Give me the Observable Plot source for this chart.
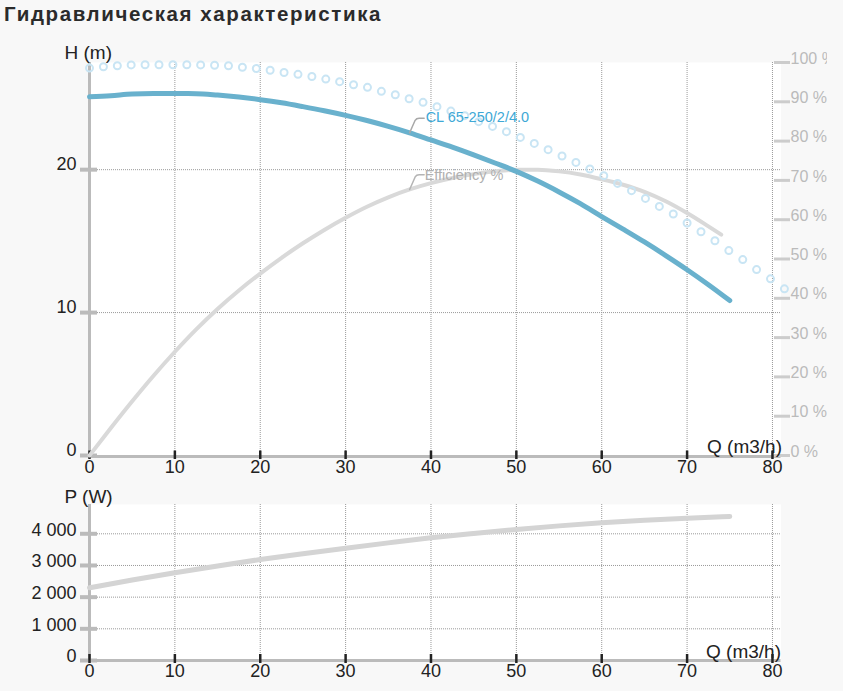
<!DOCTYPE html>
<html>
<head>
<meta charset="utf-8">
<script src="https://cdn.jsdelivr.net/npm/d3@7"></script>
<script src="https://cdn.jsdelivr.net/npm/@observablehq/plot@0.6"></script>
<style>
  html, body { margin: 0; padding: 0; background: #f8f8f8; }
  #wrap { position: relative; width: 843px; height: 691px; background: #f8f8f8; overflow: hidden; }
  #title { position: absolute; left: 4px; top: 4px; font: bold 20.5px "Liberation Sans", Arial, sans-serif; letter-spacing: 1.6px; line-height: 20px; color: #2b2b2b; white-space: nowrap; }
  #top { position: absolute; left: 0; top: 30px; width: 827px; overflow: hidden; }
  #bottom { position: absolute; left: 0; top: 480px; }
</style>
</head>
<body>
<div id="wrap">
  <div id="title">Гидравлическая характеристика</div>
  <div id="top"></div>
  <div id="bottom"></div>
</div>
<script>
// ---- data ----
const qTicks = [0, 10, 20, 30, 40, 50, 60, 70, 80];
const hTicks = [0, 10, 20];
const pctTicks = [0, 10, 20, 30, 40, 50, 60, 70, 80, 90, 100];
const pTicks = [0, 1000, 2000, 3000, 4000];

// Head curve CL 65-250/2/4.0
const headQ = [0, 2.5, 5, 7.5, 10, 12.5, 15, 17.5, 20, 22.5, 25, 27.5, 30, 32.5, 35, 37.5, 40, 42.5, 45, 47.5, 50, 52.5, 55, 57.5, 60, 62.5, 65, 67.5, 70, 72.5, 75];
const headH = [25.1, 25.18, 25.3, 25.33, 25.33, 25.32, 25.22, 25.08, 24.9, 24.68, 24.41, 24.12, 23.8, 23.44, 23.03, 22.58, 22.08, 21.58, 21.04, 20.47, 19.88, 19.2, 18.44, 17.62, 16.72, 15.84, 14.94, 13.99, 13.0, 11.95, 10.84];

// Efficiency %
const effQ = [0, 2.5, 5, 7.5, 10, 12.5, 15, 17.5, 20, 22.5, 25, 27.5, 30, 32.5, 35, 37.5, 40, 42.5, 45, 47.5, 50, 52.5, 55, 57.5, 60, 62.5, 65, 67.5, 70, 72.5, 74];
const effPct = [0, 7.0, 13.8, 20.3, 26.4, 32.1, 37.3, 42.0, 46.3, 50.3, 54.0, 57.4, 60.5, 63.3, 65.7, 67.7, 69.3, 70.6, 71.6, 72.3, 72.7, 72.7, 72.3, 71.5, 70.3, 68.9, 67.1, 64.7, 61.7, 58.3, 56.2];

// Dotted (ring) curve
const ringQ = [0, 1.63, 3.26, 4.88, 6.51, 8.14, 9.77, 11.4, 13.02, 14.65, 16.28, 17.91, 19.54, 21.16, 22.79, 24.42, 26.05, 27.68, 29.3, 30.93, 32.56, 34.19, 35.82, 37.44, 39.07, 40.7, 42.33, 43.96, 45.58, 47.21, 48.84, 50.47, 52.1, 53.72, 55.35, 56.98, 58.61, 60.24, 61.86, 63.49, 65.12, 66.75, 68.38, 70.0, 71.63, 73.26, 74.89, 76.52, 78.14, 79.77, 81.4];
const ringH = [27.11, 27.2, 27.27, 27.33, 27.34, 27.34, 27.34, 27.34, 27.33, 27.31, 27.27, 27.17, 27.08, 26.96, 26.8, 26.67, 26.52, 26.34, 26.16, 25.94, 25.76, 25.48, 25.24, 24.96, 24.71, 24.41, 24.1, 23.78, 23.36, 23.03, 22.66, 22.26, 21.84, 21.4, 20.96, 20.51, 20.05, 19.58, 19.04, 18.53, 17.99, 17.43, 16.9, 16.27, 15.66, 15.03, 14.34, 13.71, 13.01, 12.36, 11.66];

// Power P (W)
const powerQ = [0, 5, 10, 15, 20, 25, 30, 35, 40, 45, 50, 55, 60, 65, 70, 75];
const powerW = [2295, 2540, 2769, 2985, 3189, 3372, 3546, 3713, 3873, 4010, 4136, 4250, 4347, 4425, 4493, 4546];

const seriesName = "CL 65-250/2/4.0";
const effName = "Efficiency %";
const labelQ = 37.5;

// ---- build tables ----
const Hmax = 27.5;             // top of H axis (aligned with 100 %)
const pct = v => v * Hmax / 100;
const head = headQ.map((q, i) => ({Q: q, H: headH[i]}));
const eff = effQ.map((q, i) => ({Q: q, E: effPct[i]}));
const rings = ringQ.map((q, i) => ({Q: q, H: ringH[i]}));
const power = powerQ.map((q, i) => ({Q: q, P: powerW[i]}));
const headLabel = head.filter(d => d.Q === labelQ);
const effLabel = eff.filter(d => d.Q === labelQ);

const leader = {
  draw(ctx) {
    ctx.moveTo(0, 0);
    ctx.lineTo(5.5, -12.5);
    ctx.quadraticCurveTo(6.8, -14.6, 9.5, -14.6);
    ctx.lineTo(14.5, -14.6);
  }
};

const font = "'Liberation Sans', Arial, sans-serif";
const grid = {stroke: "#9a9a9a", strokeOpacity: 1, strokeWidth: 1, strokeDasharray: "1,1"};
const fmtP = d => d3.format(",")(d).replace(/,/g, " ");

const topChart = Plot.plot({
  width: 827, height: 450,
  marginLeft: 89, marginRight: 46.5, marginTop: 32, marginBottom: 25,
  style: {background: "transparent", fontFamily: font, overflow: "hidden"},
  x: {domain: [0, 81]},
  y: {domain: [0, Hmax]},
  marks: [
    Plot.frame({fill: "white", stroke: "none"}),
    Plot.gridX(qTicks.slice(1), grid),
    Plot.gridY(hTicks.slice(1), grid),
    Plot.ruleX([0], {stroke: "#bbbbbb", strokeWidth: 3}),
    Plot.ruleY([0], {stroke: "#bbbbbb", strokeWidth: 3, dy: 1}),
    // left axis
    Plot.axisY(hTicks, {anchor: "left", tickSize: 17, dx: 8, stroke: "#bbbbbb", strokeWidth: 4, fill: "none", label: null}),
    Plot.axisY(hTicks, {anchor: "left", tickSize: 0, tickPadding: 13, dy: -5, stroke: "none", fill: "#222", fontSize: 18, label: null}),
    // right % axis
    Plot.axisY(pctTicks.map(pct), {anchor: "right", tickSize: 16, dx: -7.5, stroke: "#cccccc", strokeWidth: 3, fill: "none", label: null}),
    Plot.text(pctTicks, {y: d => pct(d), text: d => d + " %", frameAnchor: "right", textAnchor: "start", lineAnchor: "middle", dx: 9.5, dy: -4, fill: "#bbbbbb", fontSize: 16}),
    // x axis
    Plot.axisX(qTicks, {anchor: "bottom", tickSize: 8.5, dy: -4.5, stroke: "#222", strokeWidth: 2.5, fill: "none", label: null}),
    Plot.axisX(qTicks, {anchor: "bottom", tickSize: 0, tickPadding: 5, stroke: "none", fill: "#222", fontSize: 18, label: null}),
    Plot.text(["Q (m3/h)"], {text: d => d, frameAnchor: "bottom-right", textAnchor: "end", lineAnchor: "middle", dx: 1, dy: -8.5, fill: "#222", fontSize: 19}),
    Plot.text(["H (m)"], {text: d => d, frameAnchor: "top-left", textAnchor: "start", lineAnchor: "middle", dx: -25, dy: -9.5, fill: "#222", fontSize: 19}),
    // curves
    Plot.line(eff, {x: "Q", y: d => pct(d.E), stroke: "#d9d9d9", strokeWidth: 4, curve: "monotone-x"}),
    Plot.dot(rings, {x: "Q", y: "H", r: 3.5, stroke: "#c9e5f4", strokeWidth: 2, fill: "none"}),
    Plot.line(head, {x: "Q", y: "H", stroke: "#69b1cd", strokeWidth: 5, curve: "monotone-x"}),
    // series labels
    Plot.vector(headLabel, {x: "Q", y: "H", length: 1, anchor: "start", shape: leader, stroke: "#a8a8a8", strokeWidth: 1.5}),
    Plot.text(headLabel, {x: "Q", y: "H", text: () => seriesName, dx: 16, dy: -15, textAnchor: "start", lineAnchor: "middle", fill: "#3ea8d6", fontSize: 14.5}),
    Plot.vector(effLabel, {x: "Q", y: d => pct(d.E), length: 1, anchor: "start", shape: leader, stroke: "#b4b4b4", strokeWidth: 1.5}),
    Plot.text(effLabel, {x: "Q", y: d => pct(d.E), text: () => effName, dx: 15, dy: -14.5, textAnchor: "start", lineAnchor: "middle", fill: "#b0b0b0", fontSize: 14.5})
  ]
});
document.getElementById("top").appendChild(topChart);

const bottomChart = Plot.plot({
  width: 843, height: 211,
  marginLeft: 89, marginRight: 62.5, marginTop: 24, marginBottom: 31,
  style: {background: "transparent", fontFamily: font, overflow: "visible"},
  x: {domain: [0, 81]},
  y: {domain: [0, 4925]},
  marks: [
    Plot.frame({fill: "white", stroke: "none"}),
    Plot.gridX(qTicks.slice(1), grid),
    Plot.gridY(pTicks.slice(1), grid),
    Plot.ruleX([0], {stroke: "#bbbbbb", strokeWidth: 3}),
    Plot.ruleY([0], {stroke: "#bbbbbb", strokeWidth: 3}),
    Plot.axisY(pTicks, {anchor: "left", tickSize: 17, dx: 8, stroke: "#bbbbbb", strokeWidth: 4, fill: "none", label: null}),
    Plot.axisY(pTicks, {anchor: "left", tickSize: 0, tickPadding: 13, dy: -4, stroke: "none", fill: "#222", fontSize: 18, tickFormat: fmtP, label: null}),
    Plot.axisX(qTicks, {anchor: "bottom", tickSize: 9, dy: -6, stroke: "#222", strokeWidth: 2.5, fill: "none", label: null}),
    Plot.axisX(qTicks, {anchor: "bottom", tickSize: 0, tickPadding: 4, stroke: "none", fill: "#222", fontSize: 18, label: null}),
    Plot.text(["Q (m3/h)"], {text: d => d, frameAnchor: "bottom-right", textAnchor: "end", lineAnchor: "middle", dx: 0, dy: -8.3, fill: "#222", fontSize: 19}),
    Plot.text(["P (W)"], {text: d => d, frameAnchor: "top-left", textAnchor: "start", lineAnchor: "middle", dx: -25, dy: -8, fill: "#222", fontSize: 19}),
    Plot.line(power, {x: "Q", y: "P", stroke: "#d4d4d4", strokeWidth: 5, curve: "monotone-x"})
  ]
});
document.getElementById("bottom").appendChild(bottomChart);
</script>
</body>
</html>
